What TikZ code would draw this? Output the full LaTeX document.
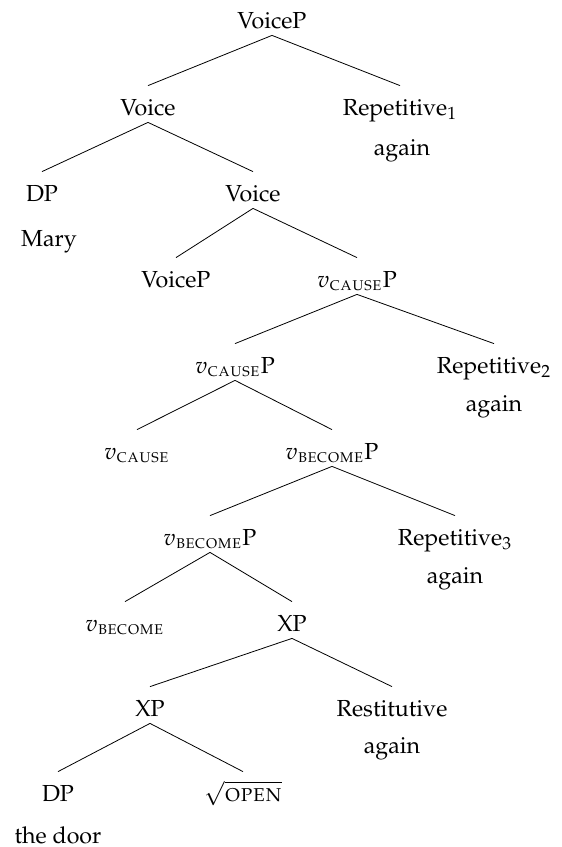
\documentclass[tikz,border=0pt]{standalone}
\usepackage[T1]{fontenc}
\usepackage{mathpazo}
\usepackage{amsmath,amssymb}
\usetikzlibrary{calc}

\tikzset{lbl/.style={anchor=base,inner sep=0pt,text height=14.5pt,text depth=3.5pt,font=\fontsize{11.6}{13}\selectfont},
         txt/.style={anchor=base,inner sep=0pt,font=\fontsize{11.6}{13}\selectfont}}
\newcommand{\cau}{$v_{\textsc{cause}}$}
\newcommand{\bec}{$v_{\textsc{become}}$}

\begin{document}
\begin{tikzpicture}[x=0.5pt,y=-0.5pt]
            \useasboundingbox (0,0) rectangle (562,847);
            % nodes of the tree
            \node[lbl] (vp) at (272,28) {VoiceP};
            \node[lbl] (v1) at (148,115) {Voice};
            \node[lbl] (r1) at (400,115) {Repetitive$_1$};
            \node[txt] (a1) at (402,155) {again};
            \node[lbl] (dp1) at (42,201) {DP};
            \node[txt] (mary) at (49,246) {Mary};
            \node[lbl] (v2) at (253,201) {Voice};
            \node[lbl] (vp2) at (176,287) {VoiceP};
            \node[lbl] (cp1) at (357,287) {\cau P};
            \node[lbl] (cp2) at (235,373) {\cau P};
            \node[lbl] (r2) at (494,373) {Repetitive$_2$};
            \node[txt] (a2) at (494,411) {again};
            \node[lbl] (c) at (137,459) {\cau};
            \node[lbl] (bp1) at (332,459) {\bec P};
            \node[lbl] (bp2) at (210,545) {\bec P};
            \node[lbl] (r3) at (455,545) {Repetitive$_3$};
            \node[txt] (a3) at (455,583) {again};
            \node[lbl] (b) at (125,631) {\bec};
            \node[lbl] (xp1) at (292,631) {XP};
            \node[lbl] (xp2) at (150,716) {XP};
            \node[lbl] (rs) at (392,716) {Restitutive};
            \node[txt] (a4) at (392,753) {again};
            \node[lbl] (dp2) at (58,801) {DP};
            \node[lbl] (op) at (243,801) {$\sqrt{\textsc{open}}$};
            \node[txt] (door) at (58,843) {the door};
            % branches
            \draw (vp.south)--(v1.north);
            \draw (vp.south)--(r1.north);
            \draw (v1.south)--(dp1.north);
            \draw (v1.south)--(v2.north);
            \draw (v2.south)--(vp2.north);
            \draw (v2.south)--(cp1.north);
            \draw (cp1.south)--(cp2.north);
            \draw (cp1.south)--(r2.north);
            \draw (cp2.south)--(c.north);
            \draw (cp2.south)--(bp1.north);
            \draw (bp1.south)--(bp2.north);
            \draw (bp1.south)--(r3.north);
            \draw (bp2.south)--(b.north);
            \draw (bp2.south)--(xp1.north);
            \draw (xp1.south)--(xp2.north);
            \draw (xp1.south)--(rs.north);
            \draw (xp2.south)--(dp2.north);
            \draw (xp2.south)--(op.north);
\end{tikzpicture}
\end{document}
